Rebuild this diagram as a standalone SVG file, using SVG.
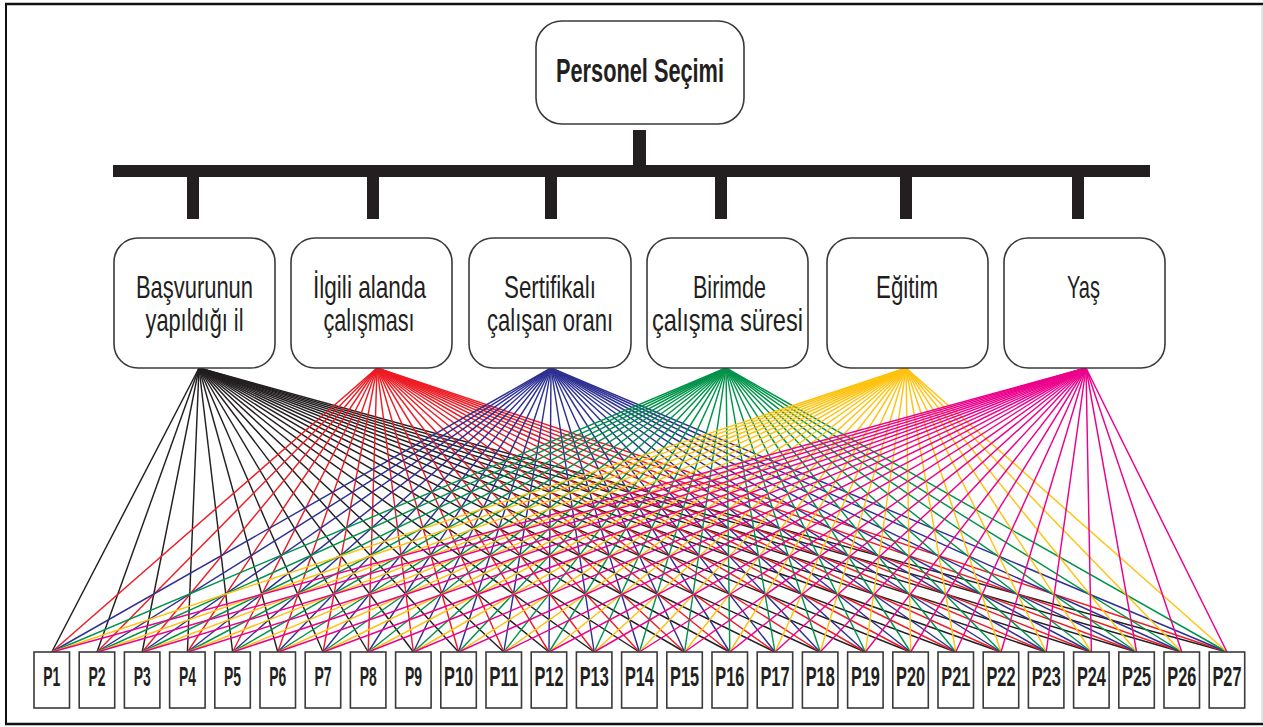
<svg xmlns="http://www.w3.org/2000/svg" width="1263" height="727" viewBox="0 0 1263 727">
<style>
.box{fill:#fff;stroke:#3a3a3a;stroke-width:1.6}
.bar{fill:#231f20}
.t{font-family:"Liberation Sans",Arial,sans-serif;font-size:32px;fill:#231f20;text-anchor:middle}
.tb{font-family:"Liberation Sans",Arial,sans-serif;font-weight:bold;fill:#231f20;text-anchor:middle}
.pl{font-size:28px}
#connectors line{stroke-width:1.45;fill:none}
.k line{stroke:#231f20}
.r line{stroke:#ed1c24}
.b line{stroke:#2e3192}
.g line{stroke:#00934a}
.y line{stroke:#ffc20e}
.m line{stroke:#ec008c}
</style>
<rect x="0" y="0" width="1263" height="727" fill="#fff"/>
<line x1="5" y1="4" x2="1263" y2="4" stroke="#111" stroke-width="2.5"/>
<line x1="6" y1="4" x2="6" y2="724" stroke="#111" stroke-width="2"/>
<line x1="5" y1="724" x2="1263" y2="724" stroke="#111" stroke-width="2.5"/>
<line x1="1262" y1="5" x2="1262" y2="723" stroke="#ccc" stroke-width="1"/>

<g id="tree">
<rect class="bar" x="633" y="130" width="13" height="37"/>
<rect class="bar" x="113" y="165" width="1037" height="12"/>
<rect class="bar" x="187" y="176" width="12" height="43"/>
<rect class="bar" x="367" y="176" width="12" height="43"/>
<rect class="bar" x="545" y="176" width="12" height="43"/>
<rect class="bar" x="715" y="176" width="12" height="43"/>
<rect class="bar" x="900" y="176" width="12" height="43"/>
<rect class="bar" x="1072" y="176" width="12" height="43"/>
</g>

<g id="connectors">
<g class="k">
<line x1="199" y1="368" x2="51.8" y2="652"/><line x1="199" y1="368" x2="97" y2="652"/><line x1="199" y1="368" x2="142.2" y2="652"/><line x1="199" y1="368" x2="187.4" y2="652"/><line x1="199" y1="368" x2="232.6" y2="652"/><line x1="199" y1="368" x2="277.8" y2="652"/><line x1="199" y1="368" x2="323" y2="652"/><line x1="199" y1="368" x2="368.2" y2="652"/><line x1="199" y1="368" x2="413.4" y2="652"/><line x1="199" y1="368" x2="458.6" y2="652"/><line x1="199" y1="368" x2="503.8" y2="652"/><line x1="199" y1="368" x2="549" y2="652"/><line x1="199" y1="368" x2="594.2" y2="652"/><line x1="199" y1="368" x2="639.4" y2="652"/><line x1="199" y1="368" x2="684.6" y2="652"/><line x1="199" y1="368" x2="729.8" y2="652"/><line x1="199" y1="368" x2="775" y2="652"/><line x1="199" y1="368" x2="820.2" y2="652"/><line x1="199" y1="368" x2="865.4" y2="652"/><line x1="199" y1="368" x2="910.6" y2="652"/><line x1="199" y1="368" x2="955.8" y2="652"/><line x1="199" y1="368" x2="1001" y2="652"/><line x1="199" y1="368" x2="1046.2" y2="652"/><line x1="199" y1="368" x2="1091.4" y2="652"/><line x1="199" y1="368" x2="1136.6" y2="652"/><line x1="199" y1="368" x2="1181.8" y2="652"/><line x1="199" y1="368" x2="1227" y2="652"/>
</g>
<g class="r">
<line x1="377" y1="368" x2="51.8" y2="652"/><line x1="377" y1="368" x2="97" y2="652"/><line x1="377" y1="368" x2="142.2" y2="652"/><line x1="377" y1="368" x2="187.4" y2="652"/><line x1="377" y1="368" x2="232.6" y2="652"/><line x1="377" y1="368" x2="277.8" y2="652"/><line x1="377" y1="368" x2="323" y2="652"/><line x1="377" y1="368" x2="368.2" y2="652"/><line x1="377" y1="368" x2="413.4" y2="652"/><line x1="377" y1="368" x2="458.6" y2="652"/><line x1="377" y1="368" x2="503.8" y2="652"/><line x1="377" y1="368" x2="549" y2="652"/><line x1="377" y1="368" x2="594.2" y2="652"/><line x1="377" y1="368" x2="639.4" y2="652"/><line x1="377" y1="368" x2="684.6" y2="652"/><line x1="377" y1="368" x2="729.8" y2="652"/><line x1="377" y1="368" x2="775" y2="652"/><line x1="377" y1="368" x2="820.2" y2="652"/><line x1="377" y1="368" x2="865.4" y2="652"/><line x1="377" y1="368" x2="910.6" y2="652"/><line x1="377" y1="368" x2="955.8" y2="652"/><line x1="377" y1="368" x2="1001" y2="652"/><line x1="377" y1="368" x2="1046.2" y2="652"/><line x1="377" y1="368" x2="1091.4" y2="652"/><line x1="377" y1="368" x2="1136.6" y2="652"/><line x1="377" y1="368" x2="1181.8" y2="652"/><line x1="377" y1="368" x2="1227" y2="652"/>
</g>
<g class="b">
<line x1="551" y1="368" x2="51.8" y2="652"/><line x1="551" y1="368" x2="97" y2="652"/><line x1="551" y1="368" x2="142.2" y2="652"/><line x1="551" y1="368" x2="187.4" y2="652"/><line x1="551" y1="368" x2="232.6" y2="652"/><line x1="551" y1="368" x2="277.8" y2="652"/><line x1="551" y1="368" x2="323" y2="652"/><line x1="551" y1="368" x2="368.2" y2="652"/><line x1="551" y1="368" x2="413.4" y2="652"/><line x1="551" y1="368" x2="458.6" y2="652"/><line x1="551" y1="368" x2="503.8" y2="652"/><line x1="551" y1="368" x2="549" y2="652"/><line x1="551" y1="368" x2="594.2" y2="652"/><line x1="551" y1="368" x2="639.4" y2="652"/><line x1="551" y1="368" x2="684.6" y2="652"/><line x1="551" y1="368" x2="729.8" y2="652"/><line x1="551" y1="368" x2="775" y2="652"/><line x1="551" y1="368" x2="820.2" y2="652"/><line x1="551" y1="368" x2="865.4" y2="652"/><line x1="551" y1="368" x2="910.6" y2="652"/><line x1="551" y1="368" x2="955.8" y2="652"/><line x1="551" y1="368" x2="1001" y2="652"/><line x1="551" y1="368" x2="1046.2" y2="652"/><line x1="551" y1="368" x2="1091.4" y2="652"/><line x1="551" y1="368" x2="1136.6" y2="652"/><line x1="551" y1="368" x2="1181.8" y2="652"/><line x1="551" y1="368" x2="1227" y2="652"/>
</g>
<g class="g">
<line x1="726" y1="368" x2="51.8" y2="652"/><line x1="726" y1="368" x2="97" y2="652"/><line x1="726" y1="368" x2="142.2" y2="652"/><line x1="726" y1="368" x2="187.4" y2="652"/><line x1="726" y1="368" x2="232.6" y2="652"/><line x1="726" y1="368" x2="277.8" y2="652"/><line x1="726" y1="368" x2="323" y2="652"/><line x1="726" y1="368" x2="368.2" y2="652"/><line x1="726" y1="368" x2="413.4" y2="652"/><line x1="726" y1="368" x2="458.6" y2="652"/><line x1="726" y1="368" x2="503.8" y2="652"/><line x1="726" y1="368" x2="549" y2="652"/><line x1="726" y1="368" x2="594.2" y2="652"/><line x1="726" y1="368" x2="639.4" y2="652"/><line x1="726" y1="368" x2="684.6" y2="652"/><line x1="726" y1="368" x2="729.8" y2="652"/><line x1="726" y1="368" x2="775" y2="652"/><line x1="726" y1="368" x2="820.2" y2="652"/><line x1="726" y1="368" x2="865.4" y2="652"/><line x1="726" y1="368" x2="910.6" y2="652"/><line x1="726" y1="368" x2="955.8" y2="652"/><line x1="726" y1="368" x2="1001" y2="652"/><line x1="726" y1="368" x2="1046.2" y2="652"/><line x1="726" y1="368" x2="1091.4" y2="652"/><line x1="726" y1="368" x2="1136.6" y2="652"/><line x1="726" y1="368" x2="1181.8" y2="652"/><line x1="726" y1="368" x2="1227" y2="652"/>
</g>
<g class="y">
<line x1="906" y1="368" x2="51.8" y2="652"/><line x1="906" y1="368" x2="97" y2="652"/><line x1="906" y1="368" x2="142.2" y2="652"/><line x1="906" y1="368" x2="187.4" y2="652"/><line x1="906" y1="368" x2="232.6" y2="652"/><line x1="906" y1="368" x2="277.8" y2="652"/><line x1="906" y1="368" x2="323" y2="652"/><line x1="906" y1="368" x2="368.2" y2="652"/><line x1="906" y1="368" x2="413.4" y2="652"/><line x1="906" y1="368" x2="458.6" y2="652"/><line x1="906" y1="368" x2="503.8" y2="652"/><line x1="906" y1="368" x2="549" y2="652"/><line x1="906" y1="368" x2="594.2" y2="652"/><line x1="906" y1="368" x2="639.4" y2="652"/><line x1="906" y1="368" x2="684.6" y2="652"/><line x1="906" y1="368" x2="729.8" y2="652"/><line x1="906" y1="368" x2="775" y2="652"/><line x1="906" y1="368" x2="820.2" y2="652"/><line x1="906" y1="368" x2="865.4" y2="652"/><line x1="906" y1="368" x2="910.6" y2="652"/><line x1="906" y1="368" x2="955.8" y2="652"/><line x1="906" y1="368" x2="1001" y2="652"/><line x1="906" y1="368" x2="1046.2" y2="652"/><line x1="906" y1="368" x2="1091.4" y2="652"/><line x1="906" y1="368" x2="1136.6" y2="652"/><line x1="906" y1="368" x2="1181.8" y2="652"/><line x1="906" y1="368" x2="1227" y2="652"/>
</g>
<g class="m">
<line x1="1086" y1="368" x2="51.8" y2="652"/><line x1="1086" y1="368" x2="97" y2="652"/><line x1="1086" y1="368" x2="142.2" y2="652"/><line x1="1086" y1="368" x2="187.4" y2="652"/><line x1="1086" y1="368" x2="232.6" y2="652"/><line x1="1086" y1="368" x2="277.8" y2="652"/><line x1="1086" y1="368" x2="323" y2="652"/><line x1="1086" y1="368" x2="368.2" y2="652"/><line x1="1086" y1="368" x2="413.4" y2="652"/><line x1="1086" y1="368" x2="458.6" y2="652"/><line x1="1086" y1="368" x2="503.8" y2="652"/><line x1="1086" y1="368" x2="549" y2="652"/><line x1="1086" y1="368" x2="594.2" y2="652"/><line x1="1086" y1="368" x2="639.4" y2="652"/><line x1="1086" y1="368" x2="684.6" y2="652"/><line x1="1086" y1="368" x2="729.8" y2="652"/><line x1="1086" y1="368" x2="775" y2="652"/><line x1="1086" y1="368" x2="820.2" y2="652"/><line x1="1086" y1="368" x2="865.4" y2="652"/><line x1="1086" y1="368" x2="910.6" y2="652"/><line x1="1086" y1="368" x2="955.8" y2="652"/><line x1="1086" y1="368" x2="1001" y2="652"/><line x1="1086" y1="368" x2="1046.2" y2="652"/><line x1="1086" y1="368" x2="1091.4" y2="652"/><line x1="1086" y1="368" x2="1136.6" y2="652"/><line x1="1086" y1="368" x2="1181.8" y2="652"/><line x1="1086" y1="368" x2="1227" y2="652"/>
</g>
</g>

<g id="root">
<rect class="box" x="536" y="21" width="208" height="103" rx="26"/>
<text class="tb" x="640" y="82" font-size="34" textLength="168" lengthAdjust="spacingAndGlyphs">Personel Seçimi</text>
</g>

<g id="c1"><rect class="box" x="114" y="238" width="161" height="130" rx="24"/>
<text class="t" x="194.5" y="298" textLength="117" lengthAdjust="spacingAndGlyphs">Başvurunun</text>
<text class="t" x="194.5" y="331" textLength="98" lengthAdjust="spacingAndGlyphs">yapıldığı il</text></g>
<g id="c2"><rect class="box" x="291" y="238" width="161" height="130" rx="24"/>
<text class="t" x="369.5" y="298" textLength="113" lengthAdjust="spacingAndGlyphs">İlgili alanda</text>
<text class="t" x="369" y="331" textLength="91" lengthAdjust="spacingAndGlyphs">çalışması</text></g>
<g id="c3"><rect class="box" x="469" y="238" width="162" height="130" rx="24"/>
<text class="t" x="550" y="298" textLength="92" lengthAdjust="spacingAndGlyphs">Sertifikalı</text>
<text class="t" x="550" y="331" textLength="126" lengthAdjust="spacingAndGlyphs">çalışan oranı</text></g>
<g id="c4"><rect class="box" x="647" y="238" width="161" height="130" rx="24"/>
<text class="t" x="729.5" y="298" textLength="73" lengthAdjust="spacingAndGlyphs">Birimde</text>
<text class="t" x="727.5" y="331" textLength="151" lengthAdjust="spacingAndGlyphs">çalışma süresi</text></g>
<g id="c5"><rect class="box" x="827" y="238" width="161" height="130" rx="24"/>
<text class="t" x="907" y="298" textLength="62" lengthAdjust="spacingAndGlyphs">Eğitim</text></g>
<g id="c6"><rect class="box" x="1004" y="238" width="161" height="130" rx="24"/>
<text class="t" x="1083.5" y="298" textLength="33" lengthAdjust="spacingAndGlyphs">Yaş</text></g>

<g id="P1"><rect class="box" x="34" y="652" width="35.5" height="56"/><text class="tb pl" x="51.8" y="686" textLength="17" lengthAdjust="spacingAndGlyphs">P1</text></g>
<g id="P2"><rect class="box" x="79.2" y="652" width="35.5" height="56"/><text class="tb pl" x="97" y="686" textLength="17" lengthAdjust="spacingAndGlyphs">P2</text></g>
<g id="P3"><rect class="box" x="124.4" y="652" width="35.5" height="56"/><text class="tb pl" x="142.2" y="686" textLength="17" lengthAdjust="spacingAndGlyphs">P3</text></g>
<g id="P4"><rect class="box" x="169.6" y="652" width="35.5" height="56"/><text class="tb pl" x="187.4" y="686" textLength="17" lengthAdjust="spacingAndGlyphs">P4</text></g>
<g id="P5"><rect class="box" x="214.8" y="652" width="35.5" height="56"/><text class="tb pl" x="232.6" y="686" textLength="17" lengthAdjust="spacingAndGlyphs">P5</text></g>
<g id="P6"><rect class="box" x="260" y="652" width="35.5" height="56"/><text class="tb pl" x="277.8" y="686" textLength="17" lengthAdjust="spacingAndGlyphs">P6</text></g>
<g id="P7"><rect class="box" x="305.2" y="652" width="35.5" height="56"/><text class="tb pl" x="323" y="686" textLength="17" lengthAdjust="spacingAndGlyphs">P7</text></g>
<g id="P8"><rect class="box" x="350.4" y="652" width="35.5" height="56"/><text class="tb pl" x="368.2" y="686" textLength="17" lengthAdjust="spacingAndGlyphs">P8</text></g>
<g id="P9"><rect class="box" x="395.6" y="652" width="35.5" height="56"/><text class="tb pl" x="413.4" y="686" textLength="17" lengthAdjust="spacingAndGlyphs">P9</text></g>
<g id="P10"><rect class="box" x="440.8" y="652" width="35.5" height="56"/><text class="tb pl" x="458.6" y="686" textLength="29" lengthAdjust="spacingAndGlyphs">P10</text></g>
<g id="P11"><rect class="box" x="486" y="652" width="35.5" height="56"/><text class="tb pl" x="503.8" y="686" textLength="29" lengthAdjust="spacingAndGlyphs">P11</text></g>
<g id="P12"><rect class="box" x="531.2" y="652" width="35.5" height="56"/><text class="tb pl" x="549" y="686" textLength="29" lengthAdjust="spacingAndGlyphs">P12</text></g>
<g id="P13"><rect class="box" x="576.4" y="652" width="35.5" height="56"/><text class="tb pl" x="594.2" y="686" textLength="29" lengthAdjust="spacingAndGlyphs">P13</text></g>
<g id="P14"><rect class="box" x="621.6" y="652" width="35.5" height="56"/><text class="tb pl" x="639.4" y="686" textLength="29" lengthAdjust="spacingAndGlyphs">P14</text></g>
<g id="P15"><rect class="box" x="666.8" y="652" width="35.5" height="56"/><text class="tb pl" x="684.6" y="686" textLength="29" lengthAdjust="spacingAndGlyphs">P15</text></g>
<g id="P16"><rect class="box" x="712" y="652" width="35.5" height="56"/><text class="tb pl" x="729.8" y="686" textLength="29" lengthAdjust="spacingAndGlyphs">P16</text></g>
<g id="P17"><rect class="box" x="757.2" y="652" width="35.5" height="56"/><text class="tb pl" x="775" y="686" textLength="29" lengthAdjust="spacingAndGlyphs">P17</text></g>
<g id="P18"><rect class="box" x="802.4" y="652" width="35.5" height="56"/><text class="tb pl" x="820.2" y="686" textLength="29" lengthAdjust="spacingAndGlyphs">P18</text></g>
<g id="P19"><rect class="box" x="847.6" y="652" width="35.5" height="56"/><text class="tb pl" x="865.4" y="686" textLength="29" lengthAdjust="spacingAndGlyphs">P19</text></g>
<g id="P20"><rect class="box" x="892.8" y="652" width="35.5" height="56"/><text class="tb pl" x="910.6" y="686" textLength="29" lengthAdjust="spacingAndGlyphs">P20</text></g>
<g id="P21"><rect class="box" x="938" y="652" width="35.5" height="56"/><text class="tb pl" x="955.8" y="686" textLength="29" lengthAdjust="spacingAndGlyphs">P21</text></g>
<g id="P22"><rect class="box" x="983.2" y="652" width="35.5" height="56"/><text class="tb pl" x="1001" y="686" textLength="29" lengthAdjust="spacingAndGlyphs">P22</text></g>
<g id="P23"><rect class="box" x="1028.4" y="652" width="35.5" height="56"/><text class="tb pl" x="1046.2" y="686" textLength="29" lengthAdjust="spacingAndGlyphs">P23</text></g>
<g id="P24"><rect class="box" x="1073.6" y="652" width="35.5" height="56"/><text class="tb pl" x="1091.4" y="686" textLength="29" lengthAdjust="spacingAndGlyphs">P24</text></g>
<g id="P25"><rect class="box" x="1118.8" y="652" width="35.5" height="56"/><text class="tb pl" x="1136.6" y="686" textLength="29" lengthAdjust="spacingAndGlyphs">P25</text></g>
<g id="P26"><rect class="box" x="1164" y="652" width="35.5" height="56"/><text class="tb pl" x="1181.8" y="686" textLength="29" lengthAdjust="spacingAndGlyphs">P26</text></g>
<g id="P27"><rect class="box" x="1209.2" y="652" width="35.5" height="56"/><text class="tb pl" x="1227" y="686" textLength="29" lengthAdjust="spacingAndGlyphs">P27</text></g>
</svg>
